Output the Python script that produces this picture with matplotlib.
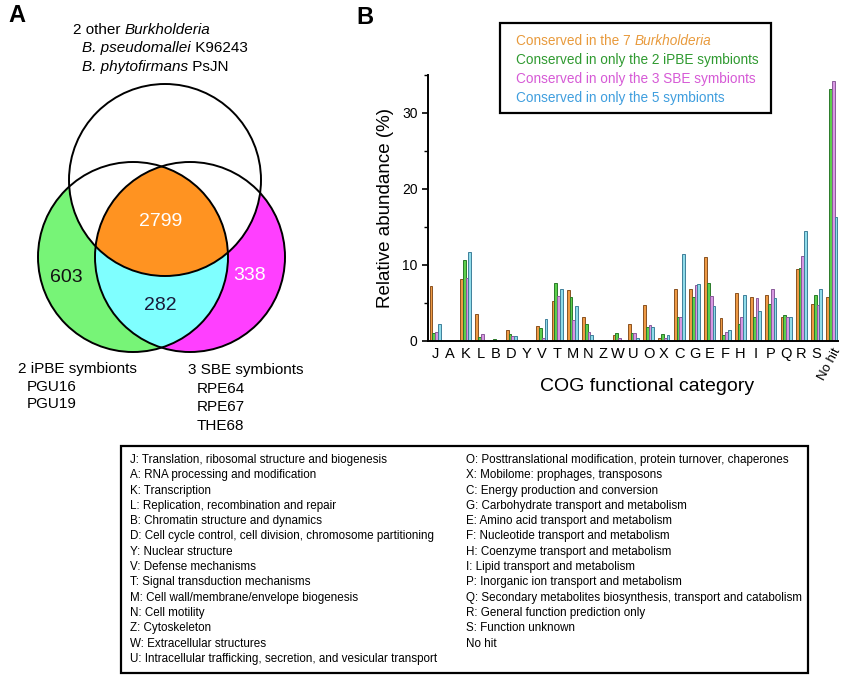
import numpy as np
import matplotlib
matplotlib.use('Agg')
from matplotlib import pyplot as plt
from matplotlib.patches import Circle, Rectangle
from matplotlib.ticker import MultipleLocator

plt.rcParams['font.family'] = ['Liberation Sans', 'DejaVu Sans']

# COG categories and relative abundance (%)
cats = ['J', 'A', 'K', 'L', 'B', 'D', 'Y', 'V', 'T', 'M', 'N', 'Z', 'W', 'U',
        'O', 'X', 'C', 'G', 'E', 'F', 'H', 'I', 'P', 'Q', 'R', 'S', 'No hit']
burk7 = [7.2, 0, 8.2, 3.6, 0, 1.45, 0, 2.0, 5.2, 6.7, 3.1, 0, 0.8, 2.2,
         4.8, 0.45, 6.9, 6.9, 11.1, 3.0, 6.3, 5.75, 6.0, 3.2, 9.5, 4.9, 5.75]
ipbe2 = [1.0, 0, 10.6, 0.5, 0.3, 0.9, 0, 1.75, 7.6, 5.8, 2.2, 0, 1.0, 1.0,
         1.9, 0.9, 3.2, 5.75, 7.6, 0.8, 2.2, 3.2, 4.9, 3.45, 9.55, 6.1, 33.2]
sbe3 = [1.2, 0, 8.3, 0.9, 0, 0.7, 0, 0.35, 5.9, 2.8, 1.2, 0, 0.35, 1.0,
        2.1, 0.45, 3.1, 7.4, 5.9, 1.2, 3.1, 5.6, 6.85, 3.2, 11.2, 4.75, 34.2]
sym5 = [2.2, 0, 11.75, 0, 0, 0.7, 0, 2.9, 6.8, 4.6, 0.75, 0, 0, 0.4,
        1.9, 0.75, 11.4, 7.45, 4.6, 1.5, 6.05, 3.95, 5.65, 3.2, 14.5, 6.8, 16.3]

# (text, italic) pieces for each legend line
series_labels = [[('Conserved in the 7 ', False), ('Burkholderia', True)],
                 [('Conserved in only the 2 iPBE symbionts', False)],
                 [('Conserved in only the 3 SBE symbionts', False)],
                 [('Conserved in only the 5 symbionts', False)]]

# Venn counts
n_core = 2799
n_ipbe = 603
n_sbe = 338
n_sym = 282

cog_left = ['J: Translation, ribosomal structure and biogenesis',
            'A: RNA processing and modification',
            'K: Transcription',
            'L: Replication, recombination and repair',
            'B: Chromatin structure and dynamics',
            'D: Cell cycle control, cell division, chromosome partitioning',
            'Y: Nuclear structure',
            'V: Defense mechanisms',
            'T: Signal transduction mechanisms',
            'M: Cell wall/membrane/envelope biogenesis',
            'N: Cell motility',
            'Z: Cytoskeleton',
            'W: Extracellular structures',
            'U: Intracellular trafficking, secretion, and vesicular transport']
cog_right = ['O: Posttranslational modification, protein turnover, chaperones',
             'X: Mobilome: prophages, transposons',
             'C: Energy production and conversion',
             'G: Carbohydrate transport and metabolism',
             'E: Amino acid transport and metabolism',
             'F: Nucleotide transport and metabolism',
             'H: Coenzyme transport and metabolism',
             'I: Lipid transport and metabolism',
             'P: Inorganic ion transport and metabolism',
             'Q: Secondary metabolites biosynthesis, transport and catabolism',
             'R: General function prediction only',
             'S: Function unknown',
             'No hit']

W, H = 850, 692
fig = plt.figure(figsize=(W / 100, H / 100), dpi=100)
renderer = fig.canvas.get_renderer()

##bar chart (panel B)
ax = fig.add_axes([428 / W, 1 - 341 / H, 410 / W, 266 / H])
fills = ['#ee9a45', '#5ccf4c', '#d898e2', '#8fdcea']
edges = ['#8a5220', '#2a7a2a', '#8a5a9a', '#3f7f9a']
x = np.arange(len(cats))
bw = 0.18
for i, vals in enumerate([burk7, ipbe2, sbe3, sym5]):
    ax.bar(x + (i - 1.5) * bw, vals, bw, color=fills[i], edgecolor=edges[i], linewidth=0.7)
ax.set_xlim(-0.46, 26.4)
ax.set_ylim(0, 35)
ax.yaxis.set_major_locator(MultipleLocator(10))
ax.yaxis.set_minor_locator(MultipleLocator(5))
ax.spines['top'].set_visible(False)
ax.spines['right'].set_visible(False)
ax.spines['left'].set_linewidth(1.4)
ax.spines['bottom'].set_linewidth(1.4)
ax.tick_params(axis='y', which='major', length=4, width=1.2, labelsize=10)
ax.tick_params(axis='y', which='minor', length=3, width=1.0)
ax.set_xticks(x)
ax.set_xticklabels(cats, fontsize=10.5)
ax.tick_params(axis='x', length=0, pad=4)
lab = ax.get_xticklabels()[-1]
lab.set_rotation(62)
lab.set_ha('right')
lab.set_va('top')
lab.set_rotation_mode('anchor')
lab.set_fontsize(9.5)
ax.set_ylabel('Relative abundance (%)', fontsize=13.5, labelpad=6)
ax.set_xlabel('COG functional category', fontsize=14)
ax.xaxis.set_label_coords(0.534, -0.14)

##overlay in pixel coordinates
ov = fig.add_axes([0, 0, 1, 1], zorder=5)
ov.set_xlim(0, W)
ov.set_ylim(H, 0)
ov.axis('off')
ov.patch.set_alpha(0)

def rich(x0, y0, parts, **kw):
    # write pieces one after another, some in italics
    for s, it in parts:
        t = ov.text(x0, y0, s, style='italic' if it else 'normal', va='center', **kw)
        x0 += t.get_window_extent(renderer).width

# venn regions
ct, rt = (165, 180), 96
cl, rl = (133, 257), 95
cr, rr = (190, 257), 95
gx = np.linspace(20, 310, 1160)
gy = np.linspace(70, 370, 1200)
X, Y = np.meshgrid(gx, gy)
inT = (X - ct[0]) ** 2 + (Y - ct[1]) ** 2 <= rt ** 2
inL = (X - cl[0]) ** 2 + (Y - cl[1]) ** 2 <= rl ** 2
inR = (X - cr[0]) ** 2 + (Y - cr[1]) ** 2 <= rr ** 2
img = np.zeros(X.shape + (4,))
def paint(mask, rgb):
    img[mask, :3] = rgb
    img[mask, 3] = 1
paint(inL & ~inT & ~inR, (0.47, 0.96, 0.47))
paint(inR & ~inT & ~inL, (1.0, 0.25, 1.0))
paint(inL & inR & ~inT, (0.5, 1.0, 1.0))
paint(inL & inR & inT, (1.0, 0.58, 0.13))
ov.imshow(img, extent=(gx[0], gx[-1], gy[-1], gy[0]), origin='upper', interpolation='bilinear')
for c, r in [(ct, rt), (cl, rl), (cr, rr)]:
    ov.add_patch(Circle(c, r, fill=False, edgecolor='black', linewidth=1.4))
ov.set_xlim(0, W)
ov.set_ylim(H, 0)

ov.text(161, 222, str(n_core), color='white', fontsize=14, ha='center', va='center')
ov.text(66, 277, str(n_ipbe), color='#111111', fontsize=14, ha='center', va='center')
ov.text(250, 275, str(n_sbe), color='white', fontsize=14, ha='center', va='center')
ov.text(160, 305, str(n_sym), color='#1a1a3a', fontsize=14, ha='center', va='center')

rich(73, 30, [('2 other ', False), ('Burkholderia', True)], fontsize=11)
rich(82, 48, [('B. pseudomallei', True), (' K96243', False)], fontsize=11)
rich(82, 67, [('B. phytofirmans', True), (' PsJN', False)], fontsize=11)
ov.text(18, 369, '2 iPBE symbionts', fontsize=11, va='center')
ov.text(27, 387, 'PGU16', fontsize=11, va='center')
ov.text(27, 404, 'PGU19', fontsize=11, va='center')
ov.text(188, 370, '3 SBE symbionts', fontsize=11, va='center')
ov.text(197, 389, 'RPE64', fontsize=11, va='center')
ov.text(197, 407, 'RPE67', fontsize=11, va='center')
ov.text(197, 426, 'THE68', fontsize=11, va='center')

ov.text(8, 16, 'A', fontsize=17, fontweight='bold', va='center')
ov.text(356, 17, 'B', fontsize=17, fontweight='bold', va='center')

# series legend box
ov.add_patch(Rectangle((500, 23), 271, 90, facecolor='white', edgecolor='black', linewidth=1.6))
txt_cols = ['#e89a3c', '#2f9a30', '#d65ad6', '#3f9ede']
for i, parts in enumerate(series_labels):
    rich(516, 41 + i * 19, parts, color=txt_cols[i], fontsize=9.8)

# COG legend box
ov.add_patch(Rectangle((121, 446), 687, 227, facecolor='white', edgecolor='black', linewidth=1.6))
for i, s in enumerate(cog_left):
    ov.text(130, 460 + i * 15.3, s, fontsize=8.35, va='center')
for i, s in enumerate(cog_right):
    ov.text(466, 460 + i * 15.3, s, fontsize=8.35, va='center')

fig.savefig('out.png', dpi=100)
